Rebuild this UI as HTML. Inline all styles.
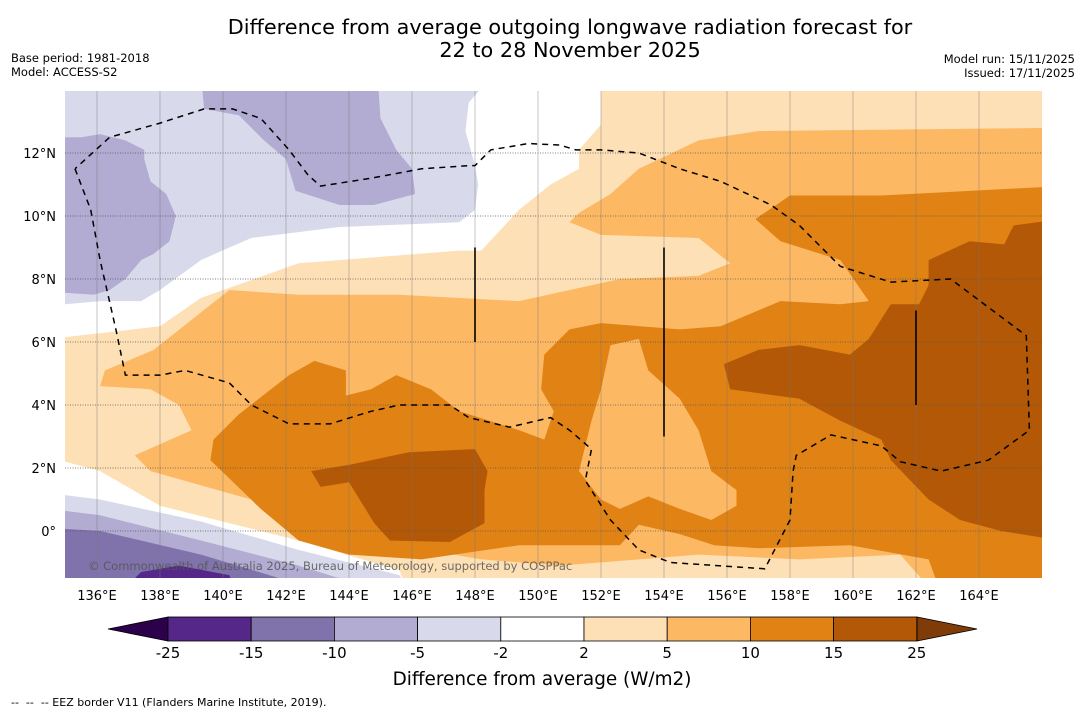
<!DOCTYPE html>
<html><head><meta charset="utf-8"><style>
body{margin:0;background:#fff;width:1085px;height:713px;overflow:hidden;font-family:"DejaVu Sans","Liberation Sans",sans-serif}
svg{position:absolute;left:0;top:0}
</style></head><body>
<svg id="s" width="1085" height="713" font-family="DejaVu Sans, Liberation Sans, sans-serif">
<text x="570" y="34" text-anchor="middle" font-size="20.8">Difference from average outgoing longwave radiation forecast for</text>
<text x="570" y="57" text-anchor="middle" font-size="20.8">22 to 28 November 2025</text>
<text x="11" y="62" font-size="11.5">Base period: 1981-2018</text>
<text x="11" y="76" font-size="11.5">Model: ACCESS-S2</text>
<text x="1075" y="63" font-size="11.5" text-anchor="end">Model run: 15/11/2025</text>
<text x="1075" y="77" font-size="11.5" text-anchor="end">Issued: 17/11/2025</text>
<defs><clipPath id="cp"><rect x="65" y="91" width="977" height="487"/></clipPath></defs>
<g id="map" clip-path="url(#cp)"></g>
<g id="ax"></g>
<g id="cb"></g>
<text x="542" y="685" text-anchor="middle" font-size="18.4">Difference from average (W/m2)</text>
<text x="11" y="706" font-size="11" style="white-space:pre">--  --  -- EEZ border V11 (Flanders Marine Institute, 2019).</text>
</svg>
<script>
const lonTicks=[136,138,140,142,144,146,148,150,152,154,156,158,160,162,164];
const latTicks=[0,2,4,6,8,10,12];
const cbLevels=[-25,-15,-10,-5,-2,2,5,10,15,25];
const cbColors=["#542788","#8073ac","#b2abd2","#d8daeb","#ffffff","#fee0b6","#fdb863","#e08214","#b35806"];
const lightOrange=[[152.0,14.5],[166.6,14.5],[166.6,-2],[145.9,-2],[145.6,-1.25],[142.4,-0.3],[138.0,0.8],[136.1,1.9],[135.0,2.2],[134.5,2.2],[134.5,6.1],[138.0,6.5],[139.3,7.4],[142.4,8.5],[147.5,8.9],[148.2,8.9],[149.4,10.2],[150.4,11.0],[151.3,11.5],[151.3,12.1],[152.0,12.9]];
const orange=[[166.6,12.8],[157.0,12.7],[155.1,12.4],[153.2,11.5],[152.3,10.7],[151.3,10.1],[151.0,9.8],[152.0,9.4],[155.1,9.3],[156.1,8.5],[155.1,8.1],[152.6,8.0],[149.4,7.3],[145.6,7.5],[142.4,7.5],[140.2,7.65],[139.0,6.7],[137.8,5.75],[136.25,5.1],[136.1,4.6],[137.7,4.5],[138.6,4.0],[139.0,3.2],[137.2,2.4],[137.7,1.9],[140.9,1.0],[142.4,0.35],[145.6,-0.45],[148.2,-0.9],[150.7,-1.1],[153.2,-0.9],[155.1,-0.75],[158.3,-0.9],[161.5,-0.75],[162.6,-2],[166.6,-2]];
const darkOrange=[[166.6,10.95],[160.9,10.65],[158.0,10.65],[156.9,9.9],[157.7,9.2],[159.6,8.6],[160.5,7.3],[159.6,7.2],[157.7,7.3],[155.8,6.5],[154.5,6.4],[152.0,6.6],[151.0,6.4],[150.2,5.6],[150.1,4.5],[150.5,3.8],[150.2,2.9],[149.4,3.2],[147.5,3.8],[146.6,4.5],[145.5,4.95],[144.7,4.5],[143.9,4.3],[143.9,5.1],[142.9,5.4],[142.1,4.95],[140.5,3.7],[139.7,2.9],[139.6,2.25],[141.2,0.7],[142.4,-0.3],[144.0,-0.75],[146.3,-0.9],[149.4,-0.45],[152.6,-0.45],[153.2,0.2],[154.5,-0.1],[155.6,-0.45],[157.0,-0.55],[159.9,-0.45],[162.4,-0.9],[162.8,-2],[166.6,-2]];
const orangeIntrusion=[[152.3,5.9],[153.2,6.1],[153.5,5.1],[154.5,4.2],[155.1,3.2],[155.5,1.9],[156.3,1.3],[156.3,0.8],[155.5,0.35],[154.5,0.7],[153.5,1.1],[152.6,0.7],[152.0,1.0],[151.3,1.9],[151.7,3.5],[152.0,4.5]];
const darkestEast=[[166.6,9.9],[165.1,9.7],[164.8,9.1],[163.7,9.2],[162.4,8.6],[162.4,7.8],[162.1,7.2],[161.2,7.2],[160.5,6.1],[159.9,5.6],[158.3,5.9],[157.0,5.75],[155.9,5.3],[156.1,4.5],[158.3,4.2],[159.6,3.5],[160.9,2.9],[161.2,2.25],[162.4,1.0],[163.4,0.35],[164.7,0.0],[166.6,-0.3]];
const darkestWest=[[142.8,1.9],[143.1,1.4],[144.0,1.55],[144.8,0.25],[145.3,-0.3],[147.2,-0.35],[148.3,0.25],[148.3,1.3],[148.4,1.9],[148.0,2.6],[145.9,2.5],[144.0,2.1]];
const lavenderNorth=[[134.5,14.5],[148.6,14.5],[147.8,13.6],[147.7,12.7],[148.0,11.6],[148.1,11.0],[148.0,10.2],[147.5,9.8],[143.7,9.65],[140.9,9.3],[140.2,9.0],[139.3,8.6],[138.0,7.65],[137.4,7.3],[136.1,7.3],[135.0,7.2],[134.5,7.2]];
const purpleNorth=[[139.3,14.5],[144.9,14.5],[145.0,13.1],[145.5,12.1],[146.0,11.5],[146.1,10.7],[144.8,10.35],[143.7,10.35],[142.3,10.8],[142.0,11.8],[141.3,12.4],[140.5,13.2],[139.4,13.4]];
const purpleWest=[[134.5,12.5],[135.5,12.5],[136.1,12.6],[136.9,12.4],[137.5,12.1],[137.5,11.8],[137.7,11.1],[138.2,10.7],[138.5,10.0],[138.3,9.2],[137.8,8.8],[137.4,8.6],[136.9,8.0],[136.4,7.65],[135.9,7.5],[134.5,7.6]];
const lavenderSouth=[[134.5,1.2],[136.1,1.0],[139.3,0.3],[142.4,-0.6],[145.6,-1.4],[146,-2],[134.5,-2]];
const purpleSouth=[[134.5,0.7],[136.1,0.5],[139.3,-0.3],[142.4,-1.1],[143.7,-1.5],[144,-2],[134.5,-2]];
const midPurpleSouth=[[134.5,0.1],[136.1,0.0],[139.3,-0.75],[141.8,-1.5],[142,-2],[134.5,-2]];
const deepPurpleSouth=[[137.2,-1.5],[137.4,-1.3],[138.6,-1.1],[140.2,-1.4],[140.4,-2],[137.0,-2]];
const eez=[[135.3,11.5],[135.8,10.2],[136.1,8.6],[136.6,6.4],[136.9,4.95],[138.0,4.95],[138.8,5.1],[140.2,4.7],[140.9,4.0],[142.1,3.4],[143.4,3.4],[144.7,3.8],[145.6,4.0],[147.2,4.0],[147.8,3.6],[149.1,3.3],[150.4,3.6],[151.0,3.2],[151.7,2.6],[151.5,1.6],[152.3,0.35],[153.2,-0.6],[154.2,-1.0],[157.2,-1.2],[158.0,0.35],[158.1,1.9],[158.2,2.4],[159.3,3.05],[160.9,2.7],[161.5,2.2],[162.8,1.9],[164.3,2.25],[165.6,3.2],[165.5,6.2],[163.1,8.0],[161.2,7.9],[159.6,8.4],[158.3,9.7],[157.4,10.35],[155.8,11.1],[154.5,11.5],[153.2,12.0],[152.0,12.1],[151.2,12.1],[150.7,12.25],[149.7,12.3],[148.5,12.1],[148.0,11.6],[147.8,11.6],[146.3,11.5],[144.7,11.2],[143.1,10.95],[142.7,11.3],[142.1,12.1],[141.2,13.1],[140.3,13.4],[139.4,13.4],[138.0,12.95],[136.4,12.5],[135.3,11.5]];
const boundaryLines=[[148,9,6],[154,9,3],[162,7,4]];

const X=lon=>97+(lon-136)*31.5, Y=lat=>531-lat*31.5;
const NS="http://www.w3.org/2000/svg";
const map=document.getElementById('map'),ax=document.getElementById('ax'),cb=document.getElementById('cb');
function mk(t,a,p){const e=document.createElementNS(NS,t);for(const k in a)e.setAttribute(k,a[k]);p.appendChild(e);return e;}
function pts(arr){return arr.map(p=>X(p[0]).toFixed(1)+','+Y(p[1]).toFixed(1)).join(' ');}
const layers=[[lightOrange,"#fee0b6","contour-2-to-5"],[orange,"#fdb863","contour-5-to-10"],[darkOrange,"#e08214","contour-10-to-15"],[orangeIntrusion,"#fdb863","contour-5-to-10-inner"],[darkestEast,"#b35806","contour-15-to-25-east"],[darkestWest,"#b35806","contour-15-to-25-west"],[lavenderNorth,"#d8daeb","contour-neg5-to-neg2-north"],[purpleNorth,"#b2abd2","contour-neg10-to-neg5-north"],[purpleWest,"#b2abd2","contour-neg10-to-neg5-west"],[lavenderSouth,"#d8daeb","contour-neg5-to-neg2-south"],[purpleSouth,"#b2abd2","contour-neg10-to-neg5-south"],[midPurpleSouth,"#8073ac","contour-neg15-to-neg10-south"],[deepPurpleSouth,"#542788","contour-neg25-to-neg15-south"]];
for(const [d,c,n] of layers){const e=mk('polygon',{points:pts(d),fill:c},map);

}
for(const lon of lonTicks){const e=mk('line',{x1:X(lon),x2:X(lon),y1:91,y2:578,stroke:'#777','stroke-width':0.6,'stroke-opacity':0.7},map);


const t=mk('text',{x:X(lon),y:600,'text-anchor':'middle','font-size':13},ax);t.textContent=lon+'°E';

}
for(const lat of latTicks){const e=mk('line',{x1:65,x2:1042,y1:Y(lat),y2:Y(lat),stroke:'#555','stroke-width':0.8,'stroke-dasharray':'1,1.5'},map);


const t=mk('text',{x:56,y:Y(lat)+5,'text-anchor':'end','font-size':13},ax);t.textContent=lat===0?'0°':lat+'°N';

}
const ez=mk('polyline',{points:pts(eez),fill:'none',stroke:'#000','stroke-width':1.5,'stroke-dasharray':'6,5'},map);


for(const [lon,a,b] of boundaryLines){const e=mk('line',{x1:X(lon),x2:X(lon),y1:Y(a),y2:Y(b),stroke:'#000','stroke-width':1.6},map);

}
const wm=mk('text',{x:88,y:570,'font-size':11.5,fill:'#555','fill-opacity':0.85},map);wm.textContent='© Commonwealth of Australia 2025, Bureau of Meteorology, supported by COSPPac';


const cbX=v=>168+cbLevels.indexOf(v)*83.2;
const y0=617,y1=641;
const lt=mk('polygon',{points:`108,629 168,${y0} 168,${y1}`,fill:'#2d004b',stroke:'#000','stroke-width':0.8},cb);


const rt=mk('polygon',{points:`977,629 917,${y0} 917,${y1}`,fill:'#7f3b08',stroke:'#000','stroke-width':0.8},cb);


for(let i=0;i<cbColors.length;i++){const x=cbX(cbLevels[i]),w=cbX(cbLevels[i+1])-x;
const r=mk('rect',{x:x,y:y0,width:w,height:y1-y0,fill:cbColors[i],stroke:'#000','stroke-width':0.8},cb);

}
for(const v of cbLevels){const t=mk('text',{x:cbX(v),y:658,'text-anchor':'middle','font-size':15},cb);t.textContent=v;

}
</script>
</body></html>
